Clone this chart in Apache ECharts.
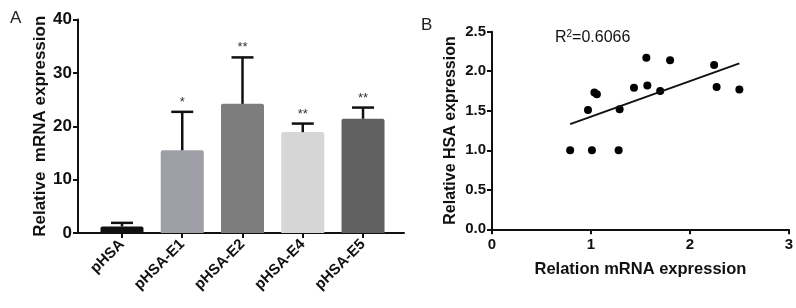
<!DOCTYPE html>
<html lang="en">
<head>
    <meta charset="UTF-8" />
    <title>HSA expression</title>
    <script src="https://cdn.jsdelivr.net/npm/echarts@6/dist/echarts.min.js"></script>
</head>
<body style="margin:0">
<div id="main" style="width: 796px;height:308px;"></div>
<script type="text/javascript">
    // panel A: bars
    var groups = ['pHSA', 'pHSA-E1', 'pHSA-E2', 'pHSA-E4', 'pHSA-E5'];
    var means = [1.2, 15.5, 24.2, 18.9, 21.4];
    var sds = [0.7, 7.2, 8.7, 1.6, 2.1];
    var stars = ['', '*', '**', '**', '**'];
    var barColors = ['#111111', '#9e9ea6', '#7d7d7d', '#d6d6d6', '#606060'];
    var yTicksA = [0, 10, 20, 30, 40];

    // panel B: scatter
    var mrna = [0.79, 1.01, 1.28, 0.97, 1.035, 1.06, 1.29, 1.435, 1.56, 1.57, 1.70, 1.80, 2.245, 2.27, 2.50];
    var hsa = [1.00, 1.00, 1.00, 1.51, 1.73, 1.71, 1.52, 1.79, 2.17, 1.82, 1.75, 2.14, 2.08, 1.80, 1.77];
    var fitLine = [[0.79, 1.33], [2.50, 2.10]];
    var r2 = '0.6066';

    var font = '"Liberation Sans", Arial, sans-serif';
    var axisLine = { show: true, onZero: false, lineStyle: { color: '#111', width: 2 } };
    var tick = { show: true, inside: false, length: 5, lineStyle: { color: '#111', width: 2 } };

    var barData = groups.map(function (g, i) {
        return { value: [i, means[i]], itemStyle: { color: barColors[i], borderRadius: [2, 2, 0, 0] } };
    });
    var errData = groups.map(function (g, i) { return [i, means[i], sds[i]]; });
    var points = mrna.map(function (x, i) { return [x, hsa[i]]; });

    var myChart = echarts.init(document.getElementById('main'));
    var option = {
        animation: false,
        textStyle: { fontFamily: font },
        title: [
            { text: 'A', left: 5, top: 5, textStyle: { fontSize: 17, fontWeight: 'normal', color: '#222', fontFamily: font } },
            { text: 'B', left: 416, top: 12, textStyle: { fontSize: 17, fontWeight: 'normal', color: '#222', fontFamily: font } },
            { text: 'R{s|2}=' + r2, left: 550, top: 24,
              textStyle: { fontSize: 16, fontWeight: 'normal', color: '#111', fontFamily: font,
                  rich: { s: { fontSize: 10, verticalAlign: 'top', padding: [0, 0, 8, 0], color: '#111', fontFamily: font } } } }
        ],
        grid: [
            { left: 78, top: 19.5, width: 326, height: 213.5 },
            { left: 492, top: 31.7, right: 6, bottom: 78.7 }
        ],
        xAxis: [
            {
                gridIndex: 0, type: 'value', min: -0.73, max: 4.68,
                splitLine: { show: false },
                axisLine: axisLine,
                axisTick: { show: true, length: 5, customValues: [0, 1, 2, 3, 4], lineStyle: { color: '#111', width: 2 } },
                axisLabel: {
                    customValues: [0, 1, 2, 3, 4], rotate: 45, margin: 9,
                    fontSize: 15, fontWeight: 'bold', color: '#111', fontFamily: font,
                    formatter: function (v) { return groups[Math.round(v)]; }
                }
            },
            {
                gridIndex: 1, type: 'value', min: 0, max: 3, interval: 1,
                splitLine: { show: false },
                axisLine: axisLine, axisTick: tick,
                axisLabel: { fontSize: 15, fontWeight: 'bold', color: '#111', margin: 8, fontFamily: font },
                name: 'Relation mRNA expression', nameLocation: 'middle', nameGap: 32,
                nameTextStyle: { fontSize: 16.5, fontWeight: 'bold', color: '#111', fontFamily: font }
            }
        ],
        yAxis: [
            {
                gridIndex: 0, type: 'value', min: yTicksA[0], max: yTicksA[yTicksA.length - 1], interval: 10,
                splitLine: { show: false },
                axisLine: axisLine, axisTick: tick,
                axisLabel: { fontSize: 17, fontWeight: 'bold', color: '#111', margin: 6, fontFamily: font },
                name: 'Relative  mRNA expression', nameLocation: 'middle', nameGap: 28,
                nameTextStyle: { fontSize: 17, fontWeight: 'bold', color: '#111', fontFamily: font }
            },
            {
                gridIndex: 1, type: 'value', min: 0, max: 2.5, interval: 0.5,
                splitLine: { show: false },
                axisLine: axisLine, axisTick: tick,
                axisLabel: { fontSize: 15, fontWeight: 'bold', color: '#111', margin: 6, fontFamily: font,
                    formatter: function (v) { return v.toFixed(1); } },
                name: 'Relative HSA expression', nameLocation: 'middle', nameGap: 33,
                nameTextStyle: { fontSize: 16, fontWeight: 'bold', color: '#111', fontFamily: font }
            }
        ],
        series: [
            {
                type: 'bar', xAxisIndex: 0, yAxisIndex: 0, barWidth: 43,
                data: barData, z: 2
            },
            {
                type: 'custom', xAxisIndex: 0, yAxisIndex: 0, z: 3,
                data: errData,
                renderItem: function (params, api) {
                    var i = api.value(0);
                    var base = api.coord([i, api.value(1)]);
                    var top = api.coord([i, api.value(1) + api.value(2)]);
                    var style = { stroke: '#111', lineWidth: 2.5 };
                    return {
                        type: 'group',
                        children: [
                            { type: 'line', shape: { x1: base[0], y1: base[1], x2: top[0], y2: top[1] }, style: style },
                            { type: 'line', shape: { x1: top[0] - 11, y1: top[1], x2: top[0] + 11, y2: top[1] }, style: style },
                            { type: 'text', x: top[0], y: top[1] - 3,
                              style: { text: stars[i], textAlign: 'center', textVerticalAlign: 'bottom',
                                       fontSize: 13, fill: '#333', fontFamily: font } }
                        ]
                    };
                }
            },
            {
                type: 'scatter', xAxisIndex: 1, yAxisIndex: 1,
                symbolSize: 8, itemStyle: { color: '#000', opacity: 1 },
                data: points
            },
            {
                type: 'line', xAxisIndex: 1, yAxisIndex: 1,
                showSymbol: false, symbol: 'none',
                lineStyle: { color: '#111', width: 2 },
                data: fitLine
            }
        ]
    };
    myChart.setOption(option);
</script>
</body>
</html>
